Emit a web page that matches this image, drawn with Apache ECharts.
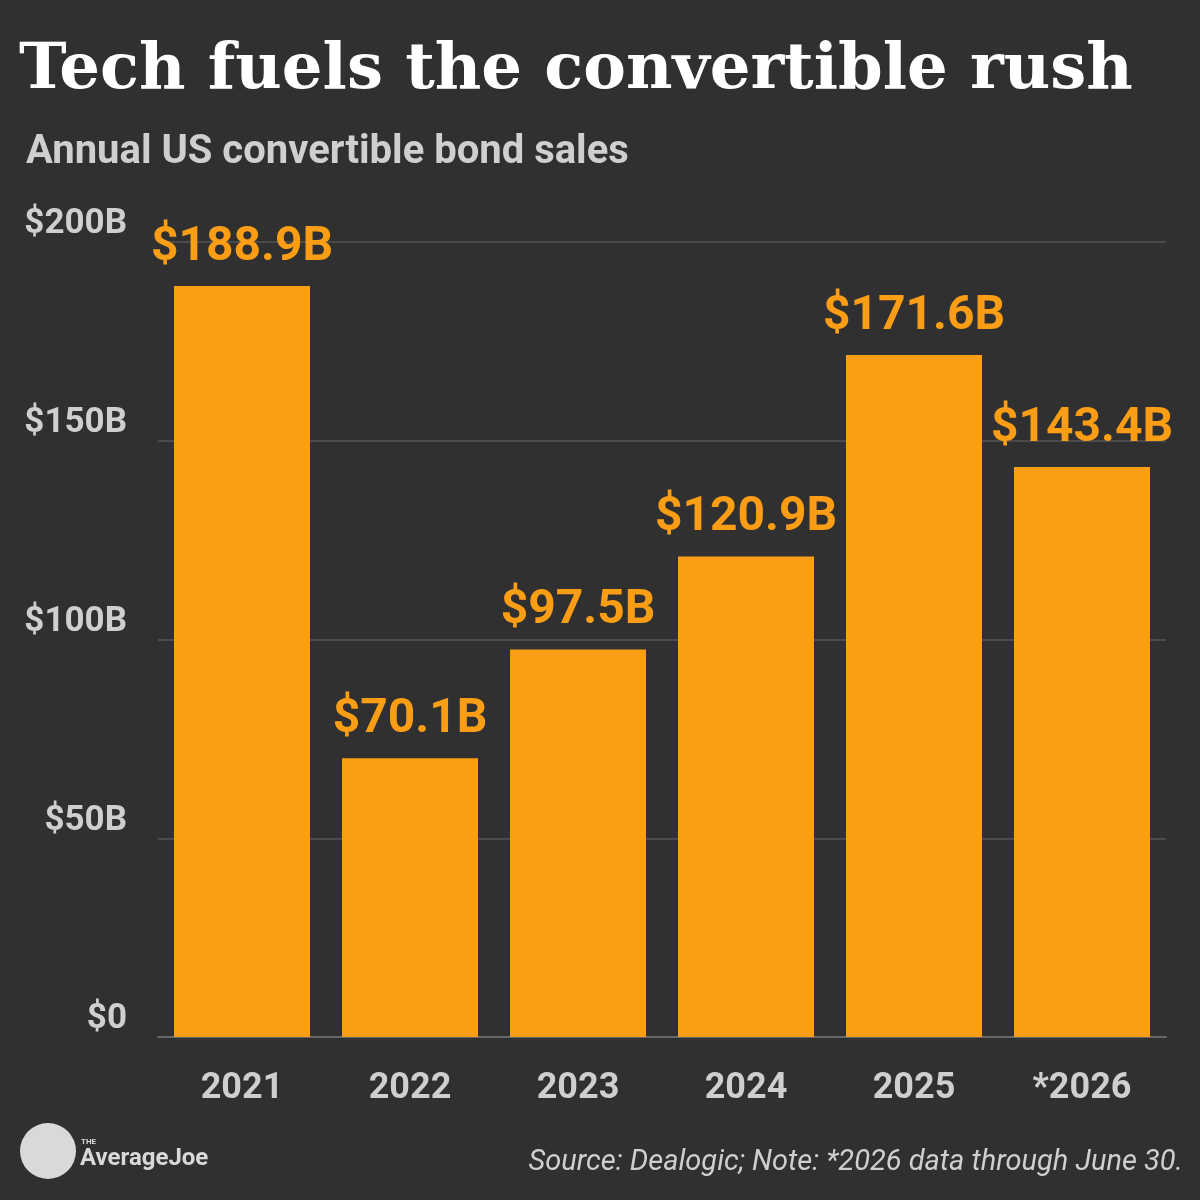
<!DOCTYPE html>
<html>
<head>
<meta charset="utf-8">
<script src="https://cdn.jsdelivr.net/npm/echarts@6/dist/echarts.min.js"></script>
<style>html,body{margin:0;padding:0;background:#303030;}#chart{width:1200px;height:1200px;}</style>
</head>
<body>
<div id="chart"></div>
<script>
var years = ['2021', '2022', '2023', '2024', '2025', '*2026'];
var sales = [188.9, 70.1, 97.5, 120.9, 171.6, 143.4];
var yTicks = [0, 50, 100, 150, 200];

var myChart = echarts.init(document.getElementById('chart'));
var option = {
    backgroundColor: '#303030',
    animation: false,
    title: [
        {
            text: 'Tech fuels the convertible rush',
            left: 14, top: 34,
            textStyle: { fontFamily: 'DejaVu Serif', fontWeight: 'bold', fontSize: 64, color: '#ffffff' }
        },
        {
            text: 'Annual US convertible bond sales',
            left: 21, top: 128,
            textStyle: { fontFamily: 'Roboto', fontWeight: 'bold', fontSize: 40, color: '#cfcfcf' }
        }
    ],
    grid: { left: 158, right: 34, top: 242, bottom: 163, containLabel: false },
    xAxis: {
        type: 'category',
        data: years,
        axisLine: { lineStyle: { color: '#666', width: 2 } },
        axisTick: { show: false },
        axisLabel: { color: '#cfcfcf', fontFamily: 'Roboto', fontWeight: 'bold', fontSize: 36, margin: 34 }
    },
    yAxis: {
        type: 'value',
        min: 0, max: 200, interval: 50,
        axisLine: { show: false },
        axisTick: { show: false },
        splitLine: { lineStyle: { color: '#555', width: 1.5 } },
        axisLabel: {
            color: '#cfcfcf', fontFamily: 'Roboto', fontWeight: 'bold', fontSize: 35, margin: 31,
            verticalAlign: 'bottom',
            formatter: function (v) { return yTicks.indexOf(v) >= 0 ? '$' + v + (v ? 'B' : '') : ''; }
        }
    },
    series: [{
        type: 'bar',
        data: sales,
        barWidth: 136,
        itemStyle: { color: '#fb9d15' },
        label: {
            show: true, position: 'top', distance: 14,
            color: '#fb9d15', fontFamily: 'Roboto', fontWeight: 'bold', fontSize: 48,
            formatter: function (p) { return '$' + p.value.toFixed(1) + 'B'; }
        }
    }],
    graphic: [
        { type: 'circle', shape: { cx: 48, cy: 1151, r: 28 }, style: { fill: '#d9d9d9' } },
        { type: 'text', left: 81, top: 1138, style: { text: 'THE', fill: '#d9d9d9', font: 'bold 8px Roboto' } },
        { type: 'text', left: 80, top: 1147, style: { text: 'AverageJoe', fill: '#d9d9d9', font: 'bold 24px Roboto' } },
        { type: 'text', right: 17, top: 1148, style: { text: 'Source: Dealogic; Note: *2026 data through June 30.', fill: '#cfcfcf', font: 'italic 29px Roboto' } }
    ]
};
myChart.setOption(option);
</script>
</body>
</html>
